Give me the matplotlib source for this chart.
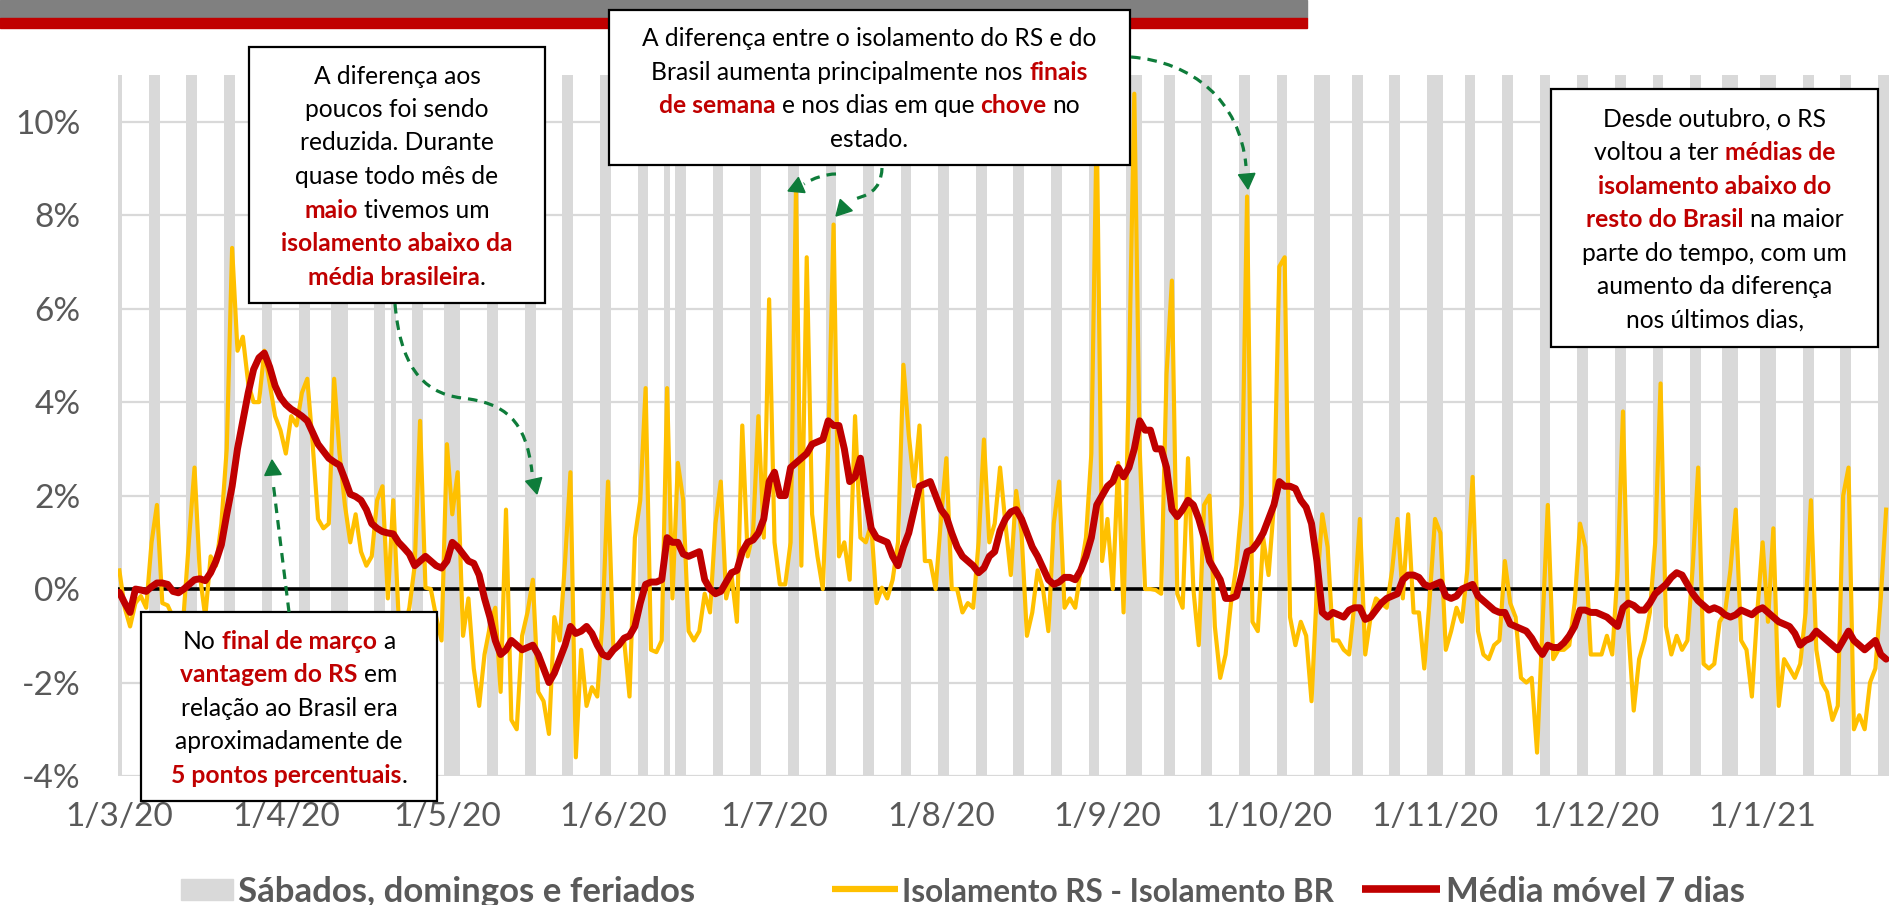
"""Isolamento social: diferenca RS - Brasil, com media movel de 7 dias."""

import matplotlib

matplotlib.use("Agg")

import matplotlib.pyplot as plt
import pandas as pd
from matplotlib.patches import PathPatch, Polygon, Rectangle
from matplotlib.path import Path

plt.rcParams["font.family"] = ["Lato", "DejaVu Sans"]

W, H = 1890, 905
YELLOW = "#FFC000"
RED = "#C00000"
GREEN = "#0E7C3A"
GREY_TXT = "#595959"
BAR_GREY = "#D9D9D9"

START = "2020-03-01"

# Isolamento RS - Isolamento BR (pontos percentuais), diario a partir de 1/3/20
iso_diff = [
    0.4, -0.4, -0.8, -0.3, -0.15, -0.4, 1.0, 1.8, -0.3, -0.35,
    -0.6, -0.8, -0.5, 1.1, 2.6, 0.3, -0.6, 0.7, 0.5, 1.4,
    3.0, 7.3, 5.1, 5.4, 4.4, 4.0, 4.0, 5.1, 4.4, 3.7,
    3.4, 2.9, 3.7, 3.5, 4.2, 4.5, 3.1, 1.5, 1.3, 1.4,
    4.5, 2.9, 1.8, 1.0, 1.6, 0.8, 0.5, 0.7, 1.9, 2.2,
    -0.2, 1.9, -0.6, -0.9, -0.4, 0.5, 3.6, 0.03, 0.0, -0.6,
    -1.1, 3.1, 1.6, 2.5, -1.0, -0.2, -1.7, -2.5, -1.4, -0.8,
    -0.4, -2.2, 1.7, -2.8, -3.0, -1.0, -0.5, 0.2, -2.2, -2.4,
    -3.1, -0.6, -1.1, 0.6, 2.5, -3.6, -1.3, -2.5, -2.1, -2.3,
    -0.6, 2.3, -1.3, -1.2, -1.1, -2.3, 1.1, 1.9, 4.3, -1.3,
    -1.35, -1.1, 4.3, -0.2, 2.7, 1.9, -0.9, -1.1, -0.9, -0.1,
    -0.5, 1.4, 2.3, -0.2, 0.3, -0.7, 3.5, 0.7, 1.2, 3.7,
    1.1, 6.2, 1.0, 0.1, 0.1, 1.0, 8.6, 0.5, 7.1, 1.6,
    0.7, 0.0, 3.0, 7.8, 0.7, 1.0, 0.2, 3.7, 1.1, 1.0,
    1.4, -0.3, 0.03, -0.2, 0.2, 1.0, 4.8, 3.3, 2.2, 3.5,
    0.6, 0.6, 0.0, 1.5, 2.8, 0.0, 0.0, -0.5, -0.3, -0.4,
    1.0, 3.2, 1.0, 1.4, 2.6, 1.4, 0.3, 2.1, 1.2, -1.0,
    -0.5, 0.4, 0.0, -0.9, 1.4, 2.3, -0.4, -0.2, -0.4, 0.4,
    1.1, 2.9, 10.0, 0.6, 1.5, 0.0, 2.7, -0.5, 4.5, 10.6,
    3.0, 0.0, 0.0, -0.02, -0.1, 4.6, 6.6, -0.1, -0.4, 2.8,
    0.0, -1.2, 1.8, 2.0, -0.8, -1.9, -1.4, -0.3, 0.5, 1.8,
    8.4, -0.7, -0.9, 1.1, 0.3, 1.8, 6.9, 7.1, -0.6, -1.2,
    -0.7, -1.0, -2.4, 0.0, 1.6, 0.9, -1.1, -1.1, -1.3, -1.4,
    -0.3, 1.5, -1.4, -0.6, -0.2, -0.3, -0.4, 0.4, 1.5, -0.2,
    1.6, -0.5, -0.5, -1.7, -0.2, 1.5, 1.2, -1.3, -0.9, -0.4,
    -0.7, 0.4, 2.4, -0.9, -1.4, -1.5, -1.2, -1.1, 0.6, -0.3,
    -0.6, -1.9, -2.0, -1.9, -3.5, -0.8, 1.8, -1.5, -1.3, -1.3,
    -1.2, -0.3, 1.4, 0.9, -1.4, -1.4, -1.4, -1.0, -1.4, 0.4,
    3.8, -0.9, -2.6, -1.5, -1.1, -0.5, 1.0, 4.4, -0.8, -1.4,
    -1.0, -1.3, -1.1, 0.5, 2.6, -1.6, -1.7, -1.6, -0.7, -0.5,
    0.4, 1.7, -1.1, -1.3, -2.3, -0.5, 1.0, -0.7, 1.3, -2.5,
    -1.5, -1.7, -1.9, -1.6, -0.5, 1.9, -1.3, -2.0, -2.2, -2.8,
    -2.5, 2.0, 2.6, -3.0, -2.7, -3.0, -2.0, -1.7, -0.2, 1.7,
]

# Media movel 7 dias (pontos percentuais)
moving_avg = [
    -0.07, -0.3, -0.5, 0.0, -0.02, -0.05, 0.05, 0.13, 0.13, 0.1,
    -0.05, -0.08, 0.0, 0.1, 0.2, 0.22, 0.18, 0.35, 0.6, 0.95,
    1.6, 2.2, 3.0, 3.6, 4.2, 4.7, 4.95, 5.05, 4.75, 4.35,
    4.1, 3.95, 3.85, 3.78, 3.7, 3.6, 3.35, 3.1, 2.95, 2.8,
    2.72, 2.65, 2.35, 2.03, 1.98, 1.9, 1.7, 1.4, 1.3, 1.23,
    1.2, 1.18, 1.0, 0.88, 0.75, 0.5, 0.6, 0.7, 0.6, 0.5,
    0.45, 0.6, 1.0, 0.9, 0.75, 0.6, 0.55, 0.3, -0.2, -0.6,
    -1.1, -1.4, -1.3, -1.1, -1.2, -1.3, -1.25, -1.2, -1.4, -1.7,
    -2.0, -1.8, -1.5, -1.2, -0.8, -0.95, -0.9, -0.8, -0.95, -1.2,
    -1.4, -1.45, -1.3, -1.2, -1.05, -1.0, -0.8, -0.3, 0.1, 0.15,
    0.15, 0.2, 1.1, 1.0, 1.0, 0.75, 0.7, 0.75, 0.8, 0.2,
    0.0, -0.1, -0.05, 0.15, 0.35, 0.4, 0.8, 1.0, 1.05, 1.2,
    1.5, 2.3, 2.5, 2.0, 2.0, 2.6, 2.7, 2.8, 2.9, 3.1,
    3.15, 3.2, 3.6, 3.5, 3.5, 3.0, 2.3, 2.4, 2.8, 2.0,
    1.3, 1.1, 1.05, 1.0, 0.7, 0.5, 0.9, 1.2, 1.7, 2.2,
    2.25, 2.3, 2.0, 1.7, 1.55, 1.2, 0.9, 0.7, 0.6, 0.5,
    0.35, 0.45, 0.7, 0.8, 1.25, 1.5, 1.65, 1.7, 1.5, 1.2,
    0.9, 0.7, 0.45, 0.2, 0.1, 0.15, 0.25, 0.25, 0.2, 0.4,
    0.7, 1.1, 1.8, 2.0, 2.2, 2.3, 2.6, 2.4, 2.6, 3.0,
    3.6, 3.4, 3.4, 3.0, 3.0, 2.6, 1.7, 1.55, 1.7, 1.9,
    1.8, 1.5, 1.1, 0.6, 0.4, 0.2, -0.2, -0.2, -0.15, 0.3,
    0.8, 0.85, 1.0, 1.2, 1.5, 1.8, 2.3, 2.2, 2.2, 2.15,
    1.9, 1.75, 1.4, 0.6, -0.5, -0.6, -0.5, -0.55, -0.6, -0.45,
    -0.4, -0.4, -0.65, -0.6, -0.45, -0.3, -0.2, -0.15, -0.1, 0.2,
    0.3, 0.3, 0.25, 0.1, 0.05, 0.1, 0.15, -0.15, -0.2, -0.15,
    0.0, 0.05, 0.1, -0.15, -0.25, -0.35, -0.45, -0.5, -0.5, -0.75,
    -0.8, -0.85, -0.9, -1.05, -1.25, -1.4, -1.2, -1.25, -1.25, -1.15,
    -1.0, -0.8, -0.45, -0.45, -0.5, -0.5, -0.55, -0.6, -0.7, -0.8,
    -0.4, -0.3, -0.35, -0.45, -0.45, -0.3, -0.1, 0.0, 0.1, 0.25,
    0.35, 0.3, 0.1, -0.1, -0.25, -0.35, -0.45, -0.4, -0.45, -0.55,
    -0.6, -0.55, -0.45, -0.5, -0.55, -0.45, -0.4, -0.5, -0.6, -0.7,
    -0.75, -0.8, -0.95, -1.2, -1.1, -1.05, -0.9, -1.0, -1.1, -1.2,
    -1.3, -1.1, -0.9, -1.1, -1.2, -1.3, -1.2, -1.1, -1.4, -1.5,
]

holidays = [
    "2020-04-10", "2020-04-21", "2020-05-01", "2020-06-11", "2020-09-07",
    "2020-10-12", "2020-11-02", "2020-12-25", "2021-01-01",
]
month_ticks = [
    "2020-03-01", "2020-04-01", "2020-05-01", "2020-06-01", "2020-07-01",
    "2020-08-01", "2020-09-01", "2020-10-01", "2020-11-01", "2020-12-01",
    "2021-01-01",
]
y_ticks = [-4, -2, 0, 2, 4, 6, 8, 10]

legend_labels = [
    "Sábados, domingos e feriados",
    "Isolamento RS - Isolamento BR",
    "Média móvel 7 dias",
]

# annotation boxes: (left, top, right, bottom) in pixels, then lines of
# (text, highlighted) pieces
box_may = (249, 47, 545, 303, [
    [("A diferença aos", False)],
    [("poucos foi sendo", False)],
    [("reduzida. Durante", False)],
    [("quase todo mês de", False)],
    [("maio", True), (" tivemos um", False)],
    [("isolamento abaixo da", True)],
    [("média brasileira", True), (".", False)],
])
box_weekend = (609, 10, 1130, 165, [
    [("A diferença entre o isolamento do RS e do", False)],
    [("Brasil aumenta principalmente nos ", False), ("finais", True)],
    [("de semana", True), (" e nos dias em que ", False), ("chove", True), (" no", False)],
    [("estado.", False)],
])
box_october = (1551, 89, 1878, 347, [
    [("Desde outubro, o RS", False)],
    [("voltou a ter ", False), ("médias de", True)],
    [("isolamento abaixo do", True)],
    [("resto do Brasil", True), (" na maior", False)],
    [("parte do tempo, com um", False)],
    [("aumento da diferença", False)],
    [("nos últimos dias,", False)],
])
box_march = (141, 612, 437, 801, [
    [("No ", False), ("final de março", True), (" a", False)],
    [("vantagem do RS", True), (" em", False)],
    [("relação ao Brasil era", False)],
    [("aproximadamente de", False)],
    [("5 pontos percentuais", True), (".", False)],
])

BOX_FONT = 17.7
LINE_STEP = 33.5


def text_width(ax, renderer, s, bold, size):
    t = ax.text(0, 0, s, fontsize=size, fontweight="bold" if bold else "normal")
    w = t.get_window_extent(renderer).width
    t.remove()
    return w


def draw_box(ax, renderer, box):
    left, top, right, bottom, lines = box
    ax.add_patch(Rectangle((left, top), right - left, bottom - top,
                           facecolor="white", edgecolor="black", lw=1.6, zorder=5))
    n = len(lines)
    cx = (left + right) / 2
    cy = (top + bottom) / 2
    space = {b: text_width(ax, renderer, "a a", b, BOX_FONT)
             - text_width(ax, renderer, "aa", b, BOX_FONT) for b in (False, True)}
    for i, parts in enumerate(lines):
        baseline = cy + (i - (n - 1) / 2) * LINE_STEP + 9
        pieces = []
        for s, bold in parts:
            lead = len(s) - len(s.lstrip(" "))
            trail = len(s) - len(s.rstrip(" "))
            core = s.strip(" ")
            pieces.append((lead * space[bold], core, bold,
                           text_width(ax, renderer, core, bold, BOX_FONT),
                           trail * space[bold]))
        total = sum(p[0] + p[3] + p[4] for p in pieces)
        x = cx - total / 2
        for lead, core, bold, w, trail in pieces:
            x += lead
            ax.text(x, baseline, core, fontsize=BOX_FONT, ha="left", va="baseline",
                    color=RED if bold else "black",
                    fontweight="bold" if bold else "normal", zorder=6)
            x += w + trail


def dashed_arrow(ax, verts, codes, base, tip, size=15):
    ax.add_patch(PathPatch(Path(verts, codes), fill=False, edgecolor=GREEN,
                           lw=2.3, linestyle=(0, (3, 2.2)), zorder=7))
    dx, dy = tip[0] - base[0], tip[1] - base[1]
    norm = (dx ** 2 + dy ** 2) ** 0.5
    ux, uy = dx / norm, dy / norm
    bx, by = tip[0] - ux * size, tip[1] - uy * size
    px, py = -uy * size * 0.55, ux * size * 0.55
    ax.add_patch(Polygon([tip, (bx + px, by + py), (bx - px, by - py)],
                         closed=True, color=GREEN, zorder=7))


def build_figure():
    dates = pd.date_range(START, periods=len(iso_diff), freq="D")
    off_day = (dates.dayofweek >= 5) | dates.isin(pd.to_datetime(holidays))

    fig = plt.figure(figsize=(W / 100, H / 100), dpi=100)
    ax = fig.add_axes([118 / W, 1 - 776 / H, (W - 118) / W, (776 - 75) / H])
    y_lo, y_hi = -4, 11

    ax.bar(dates[off_day], [y_hi - y_lo] * int(off_day.sum()), bottom=y_lo,
           width=1.0, color=BAR_GREY, linewidth=0, zorder=1)
    ax.axhline(0, color="black", lw=2.6, zorder=2)
    ax.plot(dates, iso_diff, color=YELLOW, lw=3.0, zorder=3, solid_joinstyle="round")
    ax.plot(dates, moving_avg, color=RED, lw=5, zorder=4,
            solid_joinstyle="round", solid_capstyle="round")

    ax.set_ylim(y_lo, y_hi)
    ax.set_xlim(dates[0] - pd.Timedelta(hours=6), dates[0] + pd.Timedelta(days=329.72))
    ax.set_yticks(y_ticks)
    ax.set_yticklabels([f"{v}%" for v in y_ticks])
    ticks = pd.to_datetime(month_ticks)
    ax.set_xticks(ticks)
    ax.set_xticklabels([f"{d.day}/{d.month}/{d.strftime('%y')}" for d in ticks])
    ax.tick_params(axis="both", length=0, labelsize=24, labelcolor=GREY_TXT)
    ax.tick_params(axis="y", pad=27)
    ax.tick_params(axis="x", pad=19)
    ax.grid(axis="y", color=BAR_GREY, lw=1.6)
    ax.set_axisbelow(True)
    for spine in ax.spines.values():
        spine.set_visible(False)

    # overlay in pixel coordinates for header, boxes, arrows and legend
    ov = fig.add_axes([0, 0, 1, 1], zorder=10)
    ov.set_xlim(0, W)
    ov.set_ylim(H, 0)
    ov.axis("off")
    ov.patch.set_alpha(0)
    renderer = fig.canvas.get_renderer()

    ov.add_patch(Rectangle((0, 0), 1307, 18, color="#808080"))
    ov.add_patch(Rectangle((0, 18), 1307, 10, color=RED))

    for box in (box_may, box_weekend, box_october, box_march):
        draw_box(ov, renderer, box)

    C, M, L = Path.CURVE4, Path.MOVETO, Path.LINETO
    dashed_arrow(ov, [(395, 304), (400, 362), (420, 393), (462, 398),
                      (505, 403), (526, 420), (532, 472)],
                 [M, C, C, C, C, C, C], (532, 472), (537, 494))
    dashed_arrow(ov, [(289, 612), (273, 482)], [M, L], (274, 490), (272, 460))
    dashed_arrow(ov, [(836, 174), (826, 174), (813, 178), (804, 184)],
                 [M, C, C, C], (804, 184), (788, 191))
    dashed_arrow(ov, [(882, 168), (881, 192), (866, 196), (851, 200)],
                 [M, C, C, C], (851, 200), (836, 216))
    dashed_arrow(ov, [(1131, 57), (1192, 62), (1240, 100), (1246, 166)],
                 [M, C, C, C], (1246, 166), (1248, 189))

    # legend
    ov.add_patch(Rectangle((181, 879), 52, 21, color=BAR_GREY))
    ov.plot([832, 898], [889, 889], color=YELLOW, lw=4.5, solid_capstyle="butt")
    ov.plot([1362, 1440], [889, 889], color=RED, lw=5.5, solid_capstyle="butt")
    for x, label, size in zip((238, 902, 1446), legend_labels, (25, 22.7, 25)):
        ov.text(x, 902, label, fontsize=size, fontweight="bold", color=GREY_TXT,
                ha="left", va="baseline")
    return fig


if __name__ == "__main__":
    figure = build_figure()
    figure.savefig("out.png", dpi=100)
